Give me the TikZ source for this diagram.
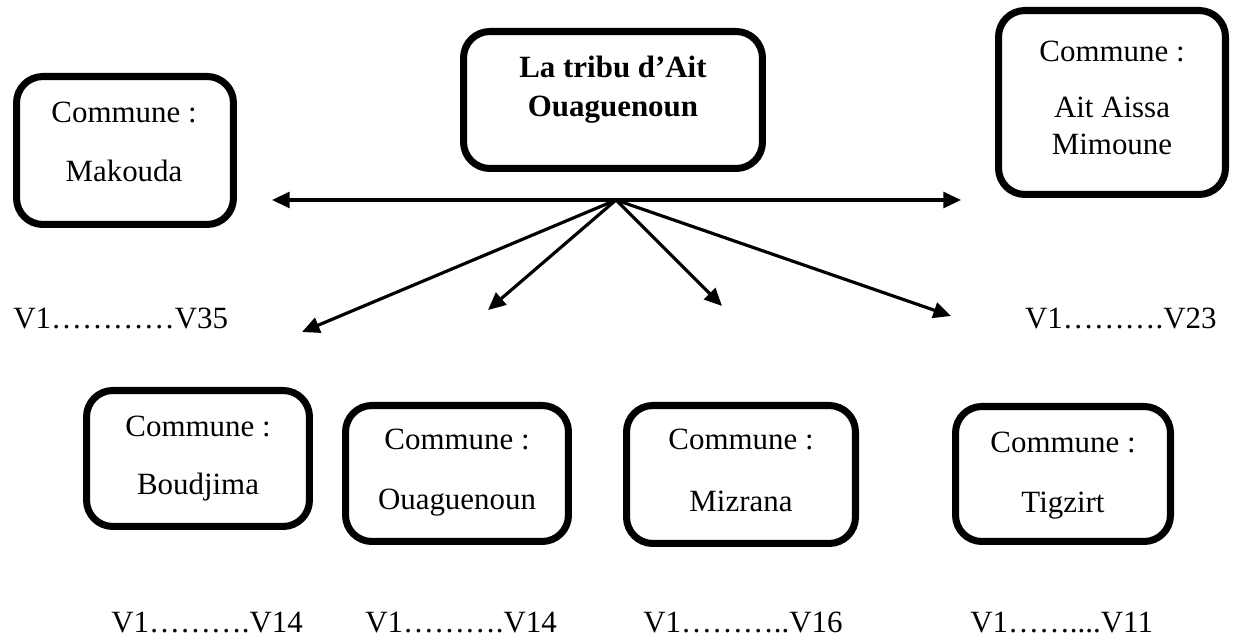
\documentclass[tikz,border=0pt]{standalone}
\usepackage{fontspec}
\setmainfont{Liberation Serif}
\usepackage{tikz}
\usetikzlibrary{positioning,arrows.meta}

\begin{document}
\begin{tikzpicture}[x=0.02cm, y=-0.02cm, node distance=1.18cm,
        font=\fontsize{17.6pt}{21pt}\selectfont,
        >={Triangle[length=10pt,width=9pt]},
        box/.style={draw, line width=4pt, rounded corners=15pt, inner sep=0pt},
        txt/.style={inner sep=0pt, text height=2ex, text depth=.6ex},
        link/.style={line width=1.8pt}]
        \useasboundingbox (0,0) rectangle (1234,644);

        \node (tribu) [box, minimum width=5.98cm, minimum height=2.74cm] at (613,100) {};
        \node (tribu1) [txt, anchor=base, font=\fontsize{17.6pt}{21pt}\selectfont\bfseries] at (613,78) {La tribu d’Ait};
        \node (tribu2) [txt, below of=tribu1, node distance=0.78cm, font=\fontsize{17.6pt}{21pt}\selectfont\bfseries] {Ouaguenoun};

        \node (mak) [box, minimum width=4.34cm, minimum height=2.96cm] at (125,150.5) {};
        \node (mak1) [txt, anchor=base] at (124,123) {Commune :};
        \node (mak2) [txt, below of=mak1] {Makouda};

        \node (aam) [box, minimum width=4.54cm, minimum height=3.68cm] at (1112,102.5) {};
        \node (aam1) [txt, anchor=base] at (1112,62) {Commune :};
        \node (aam2) [txt, below of=aam1, node distance=1.12cm] {Ait Aissa};
        \node (aam3) [txt, below of=aam2, node distance=0.74cm] {Mimoune};

        \node (boud) [box, minimum width=4.46cm, minimum height=2.72cm] at (198,458.5) {};
        \node (boud1) [txt, anchor=base] at (198,437) {Commune :};
        \node (boud2) [txt, below of=boud1, node distance=1.16cm] {Boudjima};

        \node (ouag) [box, minimum width=4.46cm, minimum height=2.72cm] at (457,473.5) {};
        \node (ouag1) [txt, anchor=base] at (457,450) {Commune :};
        \node (ouag2) [txt, below of=ouag1, node distance=1.2cm] {Ouaguenoun};

        \node (miz) [box, minimum width=4.58cm, minimum height=2.76cm] at (741,474.5) {};
        \node (miz1) [txt, anchor=base] at (741,450) {Commune :};
        \node (miz2) [txt, below of=miz1, node distance=1.24cm] {Mizrana};

        \node (tig) [box, minimum width=4.3cm, minimum height=2.7cm] at (1063,474) {};
        \node (tig1) [txt, anchor=base] at (1063,453) {Commune :};
        \node (tig2) [txt, below of=tig1, node distance=1.2cm] {Tigzirt};

        \node (v35) [txt, anchor=base west] at (13,329) {V1…………V35};
        \node (v23) [txt, anchor=base east] at (1217,329) {V1……….V23};
        \node (v14a) [txt, anchor=base west] at (111,633) {V1……….V14};
        \node (v14b) [txt, anchor=base west] at (365,633) {V1……….V14};
        \node (v16) [txt, anchor=base west] at (643,633) {V1………..V16};
        \node (v11) [txt, anchor=base west] at (970,633) {V1……....V11};

        \coordinate (hub) at (616,200);
        \coordinate (tl) at (272,200);
        \coordinate (tr) at (961,200);
        \coordinate (d1) at (302,332);
        \coordinate (d2) at (488,310);
        \coordinate (d3) at (722,306);
        \coordinate (d4) at (951,316);

        \draw[->, link] (hub) -- (tl);
        \draw[->, link] (hub) -- (tr);
        \draw[->, link] (hub) -- (d1);
        \draw[->, link] (hub) -- (d2);
        \draw[->, link] (hub) -- (d3);
        \draw[->, link] (hub) -- (d4);
    \end{tikzpicture}
\end{document}
